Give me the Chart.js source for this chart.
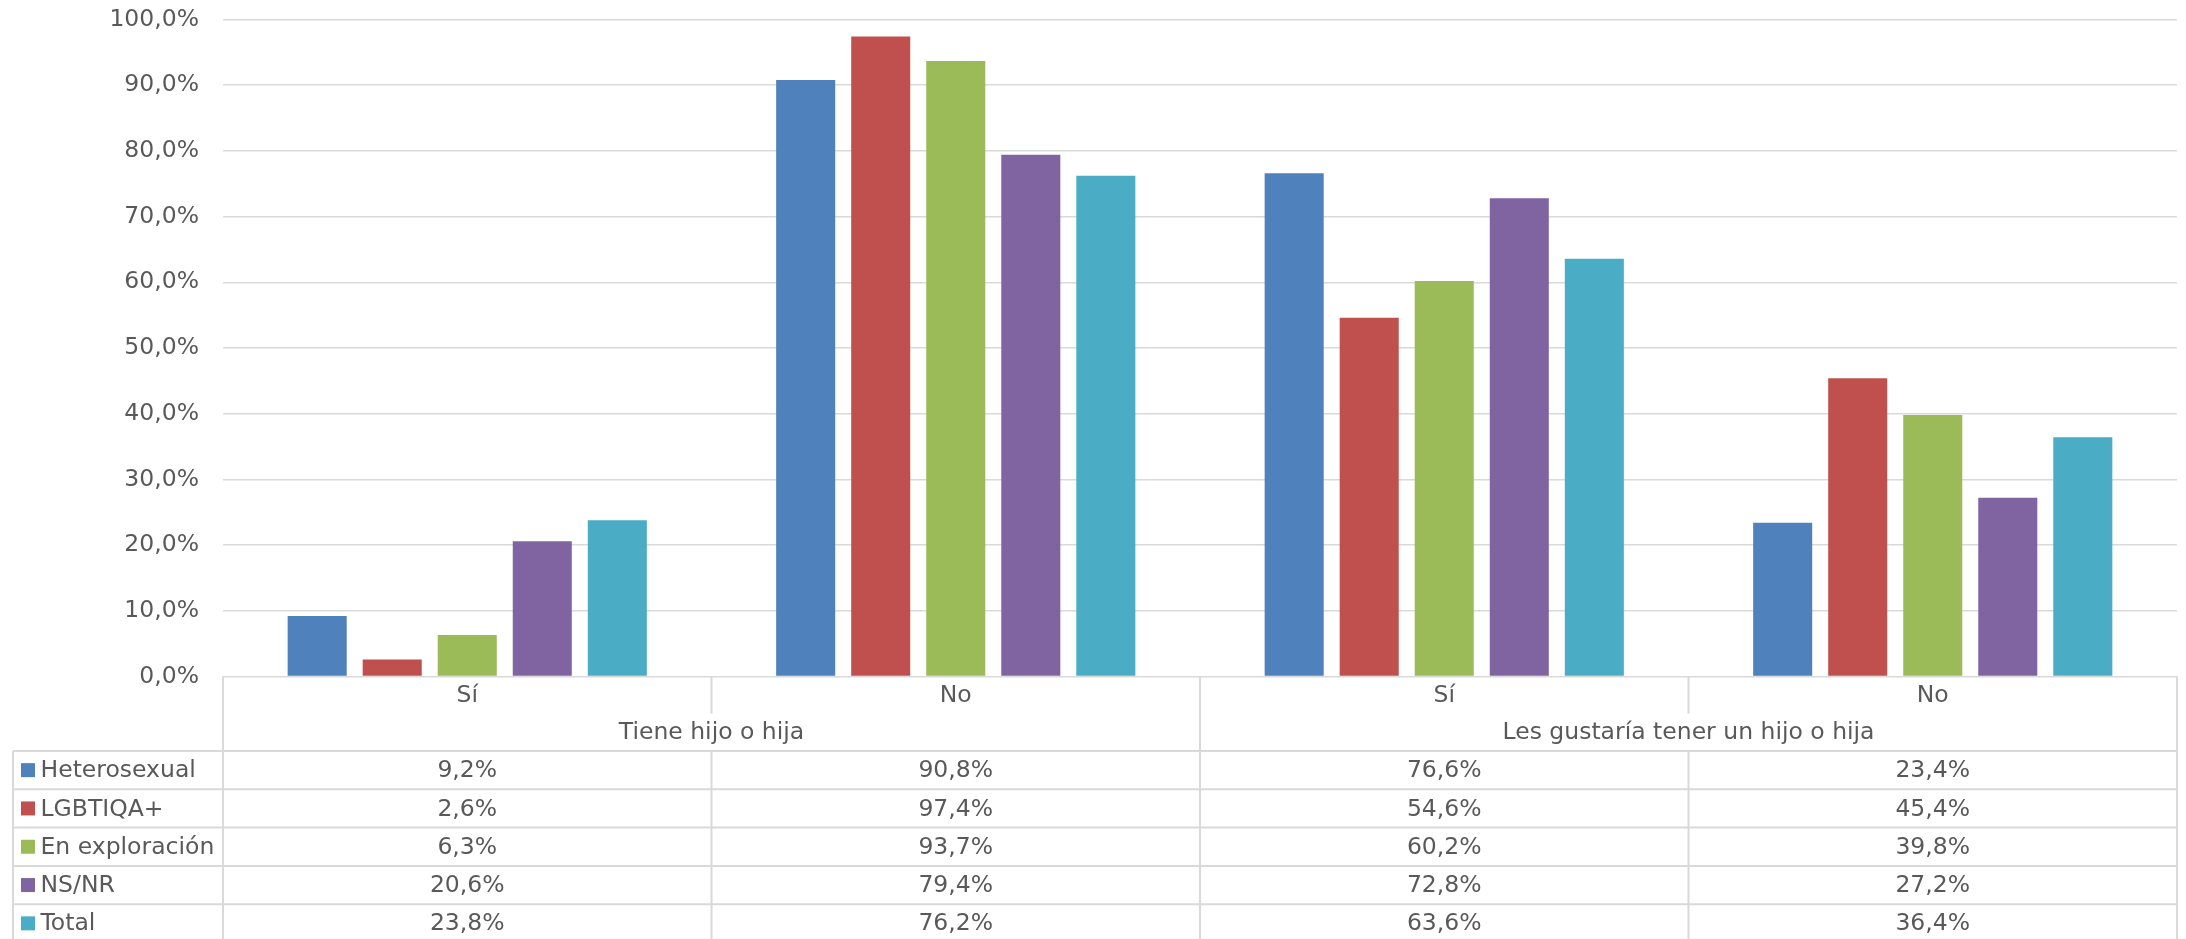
<!DOCTYPE html>
<html>
<head>
<meta charset="utf-8">
<script src="https://cdn.jsdelivr.net/npm/chart.js@4/dist/chart.umd.min.js"></script>
<style>
  html, body { margin: 0; padding: 0; background: #ffffff; }
  #wrap { width: 2186px; height: 939px; position: relative; }
</style>
</head>
<body>
<div id="wrap"><canvas id="c"></canvas></div>
<script>
const categories = ['Sí', 'No', 'Sí', 'No'];
const groupLabels = ['Tiene hijo o hija', 'Les gustaría tener un hijo o hija'];
const seriesNames = ['Heterosexual', 'LGBTIQA+', 'En exploración', 'NS/NR', 'Total'];
const heterosexual = [9.2, 90.8, 76.6, 23.4];
const lgbtiqa = [2.6, 97.4, 54.6, 45.4];
const enExploracion = [6.3, 93.7, 60.2, 39.8];
const nsnr = [20.6, 79.4, 72.8, 27.2];
const total = [23.8, 76.2, 63.6, 36.4];
const seriesColors = ['#4F81BD', '#C0504D', '#9BBB59', '#8064A2', '#4BACC6'];
const yTicks = [0, 10, 20, 30, 40, 50, 60, 70, 80, 90, 100];

const seriesValues = [heterosexual, lgbtiqa, enExploracion, nsnr, total];
const fmt = v => v.toFixed(1).replace('.', ',') + '%';
const FONT = '"DejaVu Sans", Verdana, sans-serif';
const FS = 23.5;
const TXT = '#595959';
const LINE = '#D9D9D9';

const tablePlugin = {
  id: 'dataTable',
  afterDraw(chart) {
    const ctx = chart.ctx;
    const x = chart.scales.x;
    const a = chart.chartArea;
    const n = categories.length;
    const catW = (a.right - a.left) / n;
    const top = a.bottom;
    const headerMid = top + 37;
    const headerBottom = top + 74.5;
    const rowH = 38.3;
    const tableLeft = 13;
    const rows = seriesNames.length;
    const tableBottom = headerBottom + rowH * rows;

    ctx.save();
    ctx.strokeStyle = LINE;
    ctx.lineWidth = 2;
    ctx.beginPath();
    for (let r = 0; r <= rows; r++) {
      const y = headerBottom + r * rowH;
      ctx.moveTo(tableLeft, y);
      ctx.lineTo(a.right, y);
    }
    ctx.moveTo(a.left, top);
    ctx.lineTo(a.left, tableBottom);
    ctx.moveTo(a.right, top);
    ctx.lineTo(a.right, tableBottom);
    ctx.moveTo(tableLeft, headerBottom);
    ctx.lineTo(tableLeft, tableBottom);
    for (let i = 1; i < n; i++) {
      const xx = a.left + i * catW;
      if (i % 2 === 0) {
        ctx.moveTo(xx, top); ctx.lineTo(xx, tableBottom);
      } else {
        ctx.moveTo(xx, top); ctx.lineTo(xx, headerMid);
        ctx.moveTo(xx, headerBottom); ctx.lineTo(xx, tableBottom);
      }
    }
    ctx.stroke();

    ctx.fillStyle = TXT;
    ctx.font = FS + 'px ' + FONT;
    ctx.textAlign = 'center';
    ctx.textBaseline = 'middle';
    categories.forEach((c, i) => {
      ctx.fillText(c, x.getPixelForValue(i), top + 19.5);
    });
    groupLabels.forEach((g, gi) => {
      const cx = (x.getPixelForValue(gi * 2) + x.getPixelForValue(gi * 2 + 1)) / 2;
      ctx.fillText(g, cx, top + 56);
    });
    seriesNames.forEach((name, r) => {
      const cy = headerBottom + r * rowH + rowH / 2;
      ctx.fillStyle = seriesColors[r];
      ctx.fillRect(21, cy - 7, 14, 14);
      ctx.fillStyle = TXT;
      ctx.textAlign = 'left';
      ctx.fillText(name, 40.5, cy + 1);
      ctx.textAlign = 'center';
      seriesValues[r].forEach((v, i) => {
        ctx.fillText(fmt(v), x.getPixelForValue(i), cy + 1);
      });
    });
    ctx.restore();
  }
};

new Chart(document.getElementById('c'), {
  type: 'bar',
  data: {
    labels: categories,
    datasets: seriesNames.map((name, i) => ({
      label: name,
      data: seriesValues[i],
      backgroundColor: seriesColors[i],
      borderWidth: 0,
      categoryPercentage: 0.768,
      barPercentage: 0.787
    }))
  },
  options: {
    responsive: true,
    maintainAspectRatio: false,
    devicePixelRatio: 1,
    animation: false,
    layout: { padding: { left: 0, right: 9, top: 19.5, bottom: 262.5 } },
    plugins: {
      legend: { display: false },
      tooltip: { enabled: false }
    },
    scales: {
      x: {
        display: false,
        offset: true,
        grid: { display: false }
      },
      y: {
        min: 0,
        max: 100,
        afterBuildTicks: s => { s.ticks = yTicks.map(v => ({ value: v })); },
        afterFit: s => { s.width = 223; s.paddingTop = 0; s.paddingBottom = 0; },
        ticks: {
          color: TXT,
          font: { family: FONT, size: FS },
          padding: 24,
          callback: v => fmt(v)
        },
        grid: { color: LINE, lineWidth: 1.5, drawTicks: false },
        border: { display: false }
      }
    }
  },
  plugins: [tablePlugin]
});
</script>
</body>
</html>
